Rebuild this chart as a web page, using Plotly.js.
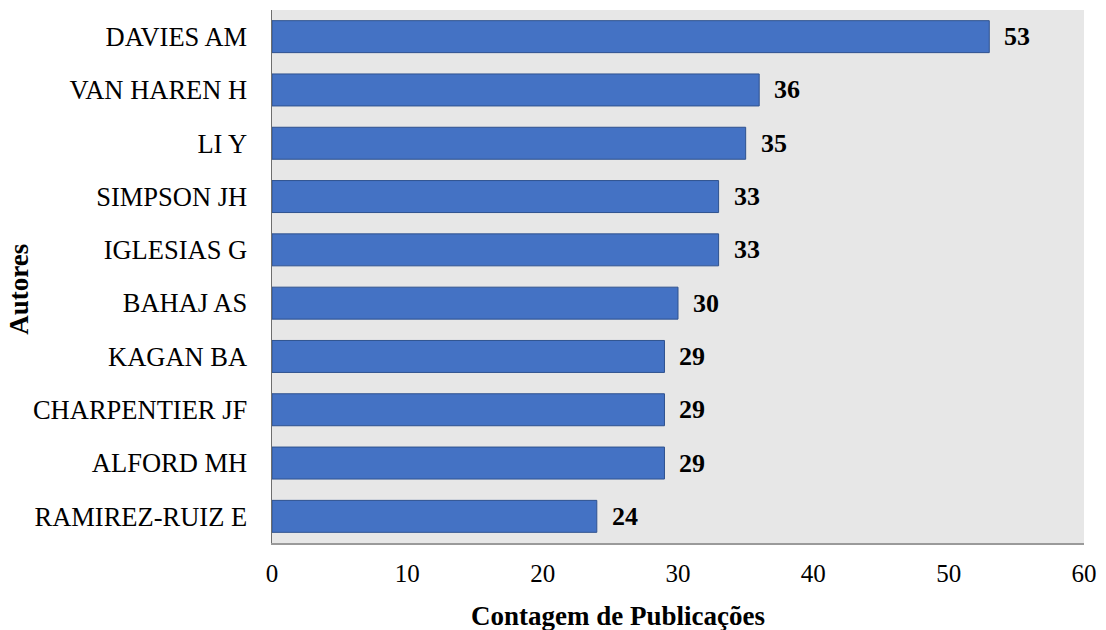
<!DOCTYPE html>
<html>
<head>
<meta charset="utf-8">
<script src="https://cdn.plot.ly/plotly-3.0.1.min.js"></script>
<style>
  html, body { margin: 0; padding: 0; background: #ffffff; }
  #chart { width: 1106px; height: 630px; }
</style>
</head>
<body>
<div id="chart"></div>
<script>
// Authors ranked by publication count (top to bottom)
const authors = [
  "DAVIES AM", "VAN HAREN H", "LI Y", "SIMPSON JH", "IGLESIAS G",
  "BAHAJ AS", "KAGAN BA", "CHARPENTIER JF", "ALFORD MH", "RAMIREZ-RUIZ E"
];
const publications = [53, 36, 35, 33, 33, 30, 29, 29, 29, 24];
const xTicks = [0, 10, 20, 30, 40, 50, 60];

const serif = "'Liberation Serif', 'Times New Roman', serif";

const bars = {
  type: "bar",
  orientation: "h",
  y: authors,
  x: publications,
  width: 0.6,
  marker: { color: "#4472C4", line: { color: "#2F528F", width: 1 } },
  hoverinfo: "x+y"
};

// Bold value labels just past the end of each bar
const valueLabels = authors.map((a, i) => ({
  x: publications[i], y: a, xref: "x", yref: "y",
  text: "<b>" + publications[i] + "</b>",
  showarrow: false, xanchor: "left", xshift: 13,
  font: { family: serif, size: 26, color: "#000000" }
}));

const layout = {
  width: 1106, height: 630,
  margin: { l: 272, r: 22, t: 10, b: 87 },
  paper_bgcolor: "#ffffff",
  plot_bgcolor: "#e7e7e7",
  showlegend: false,
  font: { family: serif, size: 26, color: "#000000" },
  xaxis: {
    range: [0, 60],
    tickvals: xTicks,
    ticktext: xTicks.map(String),
    showgrid: false, zeroline: false,
    showline: true, linecolor: "#9a9a9a", linewidth: 1.5,
    ticks: "", ticklabelstandoff: 7,
    tickfont: { family: serif, size: 25, color: "#000000" },
    fixedrange: true
  },
  yaxis: {
    type: "category",
    autorange: "reversed",
    showgrid: false, zeroline: false,
    showline: true, linecolor: "#6e6e6e", linewidth: 1.5,
    ticks: "", ticklabelstandoff: 18,
    tickfont: { family: serif, size: 26.5, color: "#000000" },
    fixedrange: true
  },
  annotations: valueLabels.concat([
    {
      text: "<b>Contagem de Publicações</b>",
      xref: "paper", yref: "paper", x: (618 - 272) / (1084 - 272), y: -0.137,
      xanchor: "center", yanchor: "middle", showarrow: false,
      font: { family: serif, size: 27, color: "#000000" }
    },
    {
      text: "<b>Autores</b>",
      xref: "paper", yref: "paper", x: -0.3116, y: 0.477, textangle: -90,
      xanchor: "center", yanchor: "middle", showarrow: false,
      font: { family: serif, size: 27, color: "#000000" }
    }
  ])
};

Plotly.newPlot("chart", [bars], layout, { displayModeBar: false, staticPlot: true });
</script>
</body>
</html>
